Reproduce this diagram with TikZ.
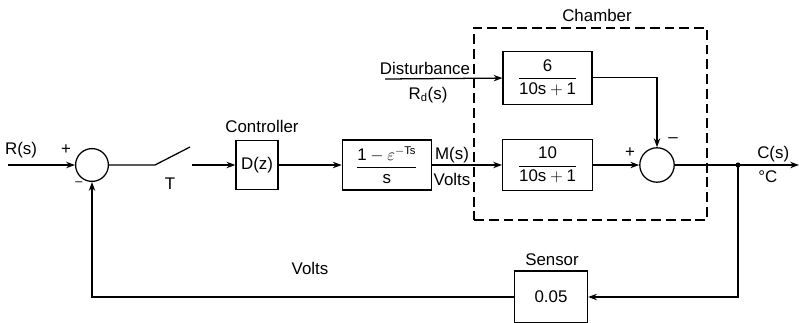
\documentclass[tikz,border=0pt]{standalone}
\usepackage{amsmath}
\usepackage{fontspec}
\setmainfont{Liberation Sans}
\usetikzlibrary{arrows.meta, positioning}

\begin{document}
\begin{tikzpicture}[
    x=0.025cm, y=-0.025cm,
    font=\fontsize{12}{14}\selectfont,
    >={Stealth[length=2.2mm, width=1.6mm]},
    block/.style={
        rectangle,
        draw,
        line width=0.9pt,
        minimum width=2.25cm,
        minimum height=1.275cm,
        inner sep=2pt
    },
    sumnode/.style={
        circle,
        draw,
        line width=0.9pt,
        minimum size=0.82cm,
        inner sep=0pt
    },
    chamber/.style={
        rectangle,
        draw,
        line width=0.9pt,
        dash pattern=on 7pt off 3.5pt,
        minimum width=5.825cm,
        minimum height=4.8cm
    },
    arrow/.style={
        ->,
        line width=0.9pt
    },
    line/.style={
        line width=0.9pt
    }
]
\useasboundingbox (0,0) rectangle (799,322);

% Chamber
\node[chamber] (chamber) at (590.5,124) {};
\node at (597,15) {Chamber};

% Forward path
\coordinate (rin) at (8,165);
\node[sumnode] (sum1) at (92,165) {};
\coordinate (swa) at (155,165);
\coordinate (swb) at (190,147);
\coordinate (swc) at (192,165);
\node[block, minimum width=1.05cm, minimum height=1.225cm] (ctrl) at (257,165) {D(z)};
\node[block, minimum width=2.225cm, minimum height=1.25cm, right=1.575cm of ctrl] (zoh)
    {$\dfrac{\text{1} - \varepsilon^{-\text{Ts}}}{\text{s}}$};
\node[block, right=1.75cm of zoh] (plant) {$\dfrac{\text{10}}{\text{10s} + \text{1}}$};
\node[block, minimum width=2.225cm, minimum height=1.325cm, above=0.85cm of plant] (dist)
    {$\dfrac{\text{6}}{\text{10s} + \text{1}}$};
\coordinate (dstart) at (385,79);
\node[sumnode, minimum size=0.86cm] (sum2) at (657,165) {};
\coordinate (tap) at (738,165);
\coordinate (cout) at (799,165);

% Feedback path
\node[block, minimum width=1.825cm, minimum height=1.3cm] (sensor) at (551,297) {0.05};

% Labels
\node at (21,150) {R(s)};
\node at (66,150) {+};
\node[font=\fontsize{9}{10}\selectfont] at (79,184) {--};
\node at (170,184) {T};
\node at (262,126) {Controller};
\node at (452,155) {M(s)};
\node at (452,179) {Volts};
\node at (425,68) {Disturbance};
\node at (428,95) {R\textsubscript{d}(s)};
\node at (630,153) {+};
\node at (673,140) {--};
\node[anchor=west, inner sep=0pt] at (757,154) {C(s)};
\node[anchor=west, inner sep=0pt] at (758,177) {°C};
\node at (552,260) {Sensor};
\node at (310,268) {Volts};

% Connections
\draw[arrow] (rin) -- (sum1);
\draw[line] (sum1) -- (swa) -- (swb);
\draw[arrow] (swc) -- (ctrl);
\draw[arrow] (ctrl) -- (zoh);
\draw[arrow] (zoh) -- (plant);
\draw[arrow] (dstart) -- (dist);
\draw[arrow] (dist.east) -| (sum2.north);
\draw[arrow] (plant) -- (sum2);
\draw[arrow] (sum2) -- (cout);
\fill (tap) circle (1.8pt);
\draw[arrow] (tap) |- (sensor.east);
\draw[arrow] (sensor.west) -| (sum1.south);

\end{tikzpicture}
\end{document}
